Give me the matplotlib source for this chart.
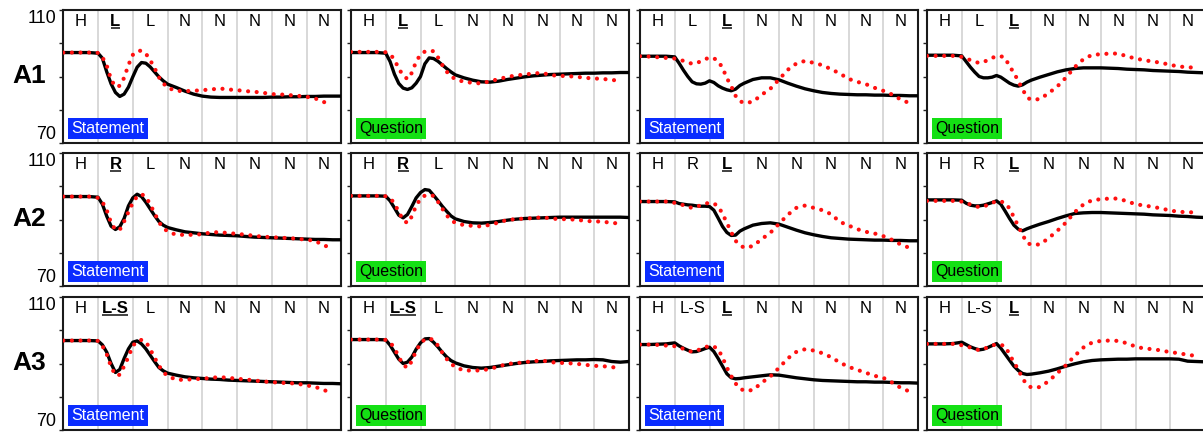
import numpy as np
import matplotlib
matplotlib.use("Agg")
import matplotlib.pyplot as plt

plt.rcParams['font.family'] = ['Liberation Sans', 'DejaVu Sans']

# ---------------- data ----------------
# sampling positions: coarse before/after the accent region, finer inside it
x_grid = np.concatenate([np.arange(0, 1, 0.25),
                         np.arange(1, 3, 0.125),
                         np.arange(3, 8.01, 0.25)])

row_names = ["A1", "A2", "A3"]
col_kinds = ["Statement", "Question", "Statement", "Question"]

tones_A1_early = ["H", "L", "L", "N", "N", "N", "N", "N"]
tones_A2_early = ["H", "R", "L", "N", "N", "N", "N", "N"]
tones_A3_early = ["H", "L-S", "L", "N", "N", "N", "N", "N"]
tones_A1_late = ["H", "L", "L", "N", "N", "N", "N", "N"]
tones_A2_late = ["H", "R", "L", "N", "N", "N", "N", "N"]
tones_A3_late = ["H", "L-S", "L", "N", "N", "N", "N", "N"]
focus_early = 1
focus_late = 2

# black = solid curve, red = dotted curve
A1_S1_black = [97.2, 97.2, 97.2, 97.2,
               97.0, 95.5, 91.4, 87.8, 85.2, 84.0, 84.7, 86.8,
               89.9, 92.8, 94.2, 94.0, 92.9, 91.4, 89.9, 88.7,
               87.7, 86.7, 85.6, 84.7, 84.1, 83.8, 83.7, 83.7, 83.7,
               83.7, 83.7, 83.7, 83.8, 83.8, 83.9, 83.9, 84.0, 84.0, 84.1, 84.1, 84.1]
A1_S1_red = [97.2, 97.2, 97.2, 97.2,
             97.1, 95.8, 93.3, 89.1, 86.9, 87.2, 89.6, 93.5,
             96.5, 97.6, 97.8, 96.9, 94.9, 92.6, 89.8, 88.0,
             86.6, 85.7, 85.6, 85.7, 85.9, 86.1, 86.4, 86.1, 85.9,
             85.6, 85.4, 85.1, 84.7, 84.6, 84.4, 84.2, 83.9, 83.4, 82.3, 82.0]
A1_Q1_black = [97.2, 97.2, 97.2, 97.2,
               97.0, 94.5, 90.7, 87.9, 86.5, 86.1, 86.6, 88.0,
               90.0, 93.8, 95.6, 95.4, 94.6, 93.5, 92.4, 91.4,
               90.5, 89.6, 88.9, 88.4, 88.3, 88.6, 89.1, 89.5, 89.9,
               90.2, 90.4, 90.6, 90.7, 90.8, 90.9, 91.0, 91.0, 91.1, 91.1, 91.2, 91.2]
A1_Q1_red = [97.4, 97.4, 97.4, 97.4,
             97.3, 96.7, 95.1, 92.3, 90.4, 89.2, 91.1, 94.5,
             96.6, 97.5, 97.8, 97.6, 95.8, 93.5, 91.5, 90.1,
             89.2, 88.4, 88.1, 87.9, 88.6, 89.2, 89.9, 90.3, 90.6,
             90.9, 91.1, 90.4, 90.2, 90.1, 89.9, 89.6, 89.4, 89.3, 88.9, 88.9]
A1_S2_black = [96.1, 96.1, 96.1, 96.1,
               95.9, 94.0, 91.9, 90.0, 88.4, 87.8, 87.7, 88.0,
               88.7, 88.2, 87.2, 86.5, 86.0, 85.7, 86.2, 87.3,
               88.0, 89.1, 89.6, 89.6, 89.0, 88.0, 87.1, 86.3, 85.7,
               85.2, 84.9, 84.7, 84.6, 84.5, 84.5, 84.4, 84.4, 84.3, 84.3, 84.2, 84.2]
A1_S2_red = [96.1, 96.0, 95.8, 95.6,
             95.4, 95.1, 94.7, 94.3, 93.8, 94.0, 94.6, 95.2,
             95.7, 95.5, 94.6, 92.6, 89.5, 87.1, 84.2, 82.6,
             82.0, 82.4, 84.5, 86.3, 89.1, 92.0, 93.9, 94.7, 94.1,
             93.4, 92.2, 90.9, 89.3, 88.4, 87.7, 86.6, 85.7, 84.6, 83.1, 82.0]
A1_Q2_black = [96.4, 96.4, 96.4, 96.4,
               96.2, 94.5, 92.8, 91.3, 90.0, 89.6, 89.6, 89.8,
               90.3, 89.8, 88.9, 88.0, 87.4, 87.1, 87.5, 88.3,
               88.9, 89.8, 90.6, 91.4, 92.0, 92.4, 92.6, 92.6, 92.6,
               92.5, 92.4, 92.2, 92.1, 92.0, 91.8, 91.7, 91.6, 91.5, 91.3, 91.2, 91.1]
A1_Q2_red = [96.2, 96.2, 96.2, 96.2,
             95.9, 95.5, 94.9, 94.4, 94.1, 94.3, 95.0, 95.6,
             96.1, 96.1, 95.6, 93.0, 91.2, 88.6, 86.2, 83.7,
             83.0, 83.2, 85.0, 87.0, 89.7, 92.8, 95.2, 96.5, 96.7,
             96.9, 96.9, 96.1, 95.4, 94.9, 94.5, 94.1, 93.5, 93.0, 92.8, 92.6]

A2_S1_black = [96.9, 96.9, 96.9, 96.9,
               96.7, 94.6, 91.0, 88.0, 87.0, 87.8, 90.3, 94.1,
               96.5, 97.6, 96.9, 95.2, 93.2, 91.2, 89.4, 88.3,
               87.6, 86.9, 86.3, 86.0, 85.7, 85.5, 85.3, 85.2, 85.1,
               84.9, 84.7, 84.6, 84.5, 84.4, 84.3, 84.2, 84.1, 84.0, 84.0, 83.9, 83.9]
A2_S1_red = [96.9, 96.9, 96.9, 96.9,
             96.5, 95.3, 92.8, 89.0, 86.9, 86.9, 89.4, 92.3,
             95.0, 97.0, 97.6, 96.9, 94.5, 92.0, 89.2, 87.5,
             86.4, 85.4, 85.4, 85.4, 85.6, 86.1, 86.2, 85.9, 85.7,
             85.4, 85.1, 84.8, 84.7, 84.5, 84.4, 84.2, 83.9, 83.6, 82.1, 81.7]
A2_Q1_black = [97.1, 97.1, 97.1, 97.1,
               97.0, 95.6, 93.5, 91.3, 90.5, 91.5, 93.9, 96.5,
               98.1, 99.0, 98.8, 97.3, 95.7, 94.0, 92.5, 91.1,
               90.2, 89.4, 89.0, 88.9, 89.1, 89.4, 89.8, 90.1, 90.3,
               90.4, 90.5, 90.6, 90.7, 90.7, 90.7, 90.7, 90.7, 90.7, 90.7, 90.7, 90.6]
A2_Q1_red = [97.1, 97.1, 97.1, 97.1,
             97.0, 96.4, 94.9, 92.2, 89.9, 88.9, 90.9, 94.2,
             96.2, 97.2, 97.4, 97.1, 95.4, 93.3, 91.3, 89.8,
             89.0, 88.3, 88.1, 87.9, 88.4, 89.1, 89.9, 90.1, 90.3,
             90.4, 90.7, 90.3, 90.1, 90.1, 89.9, 89.6, 89.4, 89.4, 88.9, 88.9]
A2_S2_black = [95.4, 95.4, 95.4, 95.4,
               95.3, 94.8, 94.6, 94.4, 94.3, 94.1, 94.0, 94.0,
               93.9, 92.8, 90.4, 87.9, 86.1, 85.2, 85.3, 86.5,
               87.2, 88.3, 88.8, 89.0, 88.6, 87.7, 86.8, 86.0, 85.4,
               84.9, 84.5, 84.3, 84.1, 84.0, 83.9, 83.8, 83.8, 83.7, 83.7, 83.6, 83.6]
A2_S2_red = [95.4, 95.4, 95.4, 95.4,
             95.0, 94.7, 94.3, 93.8, 93.5, 93.8, 94.3, 94.7,
             95.1, 94.8, 94.0, 91.7, 89.0, 86.2, 83.6, 82.3,
             81.5, 82.0, 84.1, 86.0, 88.7, 91.4, 93.5, 94.2, 93.5,
             92.8, 91.6, 89.3, 88.2, 87.1, 86.3, 85.8, 85.0, 83.9, 82.5, 81.5]
A2_Q2_black = [95.9, 95.9, 95.9, 95.9,
               95.8, 94.9, 94.3, 94.1, 94.1, 94.3, 94.7, 95.1,
               95.6, 94.6, 92.5, 90.3, 88.3, 87.1, 86.6, 87.2,
               87.7, 88.6, 89.4, 90.3, 91.1, 91.8, 92.0, 92.1, 92.1,
               92.0, 91.9, 91.8, 91.7, 91.6, 91.4, 91.3, 91.2, 91.0, 90.9, 90.7, 90.6]
A2_Q2_red = [95.6, 95.6, 95.6, 95.6,
             95.4, 95.0, 94.5, 94.1, 93.7, 93.9, 94.4, 95.0,
             95.5, 95.4, 95.0, 93.3, 90.7, 88.0, 85.4, 83.0,
             82.4, 82.5, 84.4, 86.6, 89.1, 92.2, 94.5, 95.8, 96.1,
             96.3, 96.3, 95.5, 94.6, 94.2, 93.8, 93.3, 92.7, 92.3, 92.2, 92.1]

A3_S1_black = [96.9, 96.9, 96.9, 96.9,
               96.8, 95.6, 93.4, 90.0, 87.3, 88.2, 91.5, 94.4,
               96.4, 96.8, 95.9, 94.4, 92.5, 90.6, 88.8, 87.8,
               87.1, 86.5, 86.0, 85.7, 85.5, 85.3, 85.2, 85.0, 84.9,
               84.8, 84.7, 84.6, 84.5, 84.4, 84.3, 84.2, 84.2, 84.1, 84.0, 84.0, 83.9]
A3_S1_red = [96.9, 96.9, 96.9, 96.9,
             96.8, 95.3, 92.8, 89.0, 86.5, 86.6, 89.2, 92.0,
             95.3, 96.7, 97.1, 96.6, 94.3, 91.8, 89.4, 87.4,
             86.3, 85.1, 85.1, 85.3, 85.4, 85.7, 85.9, 85.7, 85.4,
             85.2, 84.9, 84.6, 84.4, 84.2, 84.1, 83.9, 83.4, 83.0, 81.9, 81.6]
A3_Q1_black = [97.2, 97.2, 97.2, 97.2,
               97.1, 95.5, 93.4, 91.3, 90.0, 90.4, 91.9, 94.3,
               96.2, 97.4, 97.5, 96.4, 95.0, 93.4, 92.0, 90.9,
               90.2, 89.3, 88.8, 88.6, 88.8, 89.2, 89.6, 90.0, 90.3,
               90.5, 90.6, 90.8, 90.9, 91.0, 91.1, 91.1, 91.2, 91.1, 90.6, 90.4, 90.6]
A3_Q1_red = [97.2, 97.2, 97.2, 97.2,
             97.1, 96.4, 94.6, 92.0, 89.6, 88.7, 90.7, 93.9,
             96.0, 97.3, 97.5, 97.1, 95.4, 93.3, 91.4, 90.0,
             88.9, 87.9, 87.9, 87.9, 88.4, 89.1, 89.9, 90.1, 90.4,
             90.7, 90.9, 90.4, 90.2, 90.1, 89.9, 89.6, 89.3, 89.2, 88.9, 88.7]
A3_S2_black = [95.7, 95.7, 95.8, 95.9,
               96.2, 95.3, 94.6, 94.0, 93.5, 93.6, 94.0, 94.5,
               94.9, 93.6, 91.5, 89.2, 86.9, 85.7, 85.4, 85.5,
               85.7, 86.0, 86.3, 86.6, 86.5, 86.1, 85.7, 85.4, 85.1,
               84.9, 84.8, 84.7, 84.6, 84.5, 84.5, 84.4, 84.4, 84.3, 84.2, 84.2, 84.1]
A3_S2_red = [95.7, 95.7, 95.6, 95.4,
             95.2, 94.9, 94.4, 93.9, 93.5, 93.8, 94.4, 94.9,
             95.3, 95.1, 94.3, 91.8, 88.8, 86.2, 84.0, 82.5,
             81.8, 82.0, 84.2, 86.1, 88.7, 91.5, 93.5, 94.3, 93.9,
             93.1, 91.9, 90.3, 89.0, 88.1, 87.2, 86.3, 85.7, 84.3, 82.7, 81.6]
A3_Q2_black = [95.9, 95.9, 95.9, 96.0,
               96.4, 95.7, 95.0, 94.5, 94.1, 94.3, 94.8, 95.4,
               96.0, 94.6, 92.8, 91.0, 89.2, 87.9, 87.0, 86.7,
               86.8, 87.2, 87.7, 88.4, 89.2, 89.9, 90.5, 90.9, 91.1,
               91.2, 91.3, 91.3, 91.4, 91.4, 91.4, 91.4, 91.4, 91.3, 90.7, 90.6, 90.5]
A3_Q2_red = [95.9, 95.9, 95.9, 95.9,
             95.5, 95.2, 94.8, 94.4, 94.0, 94.3, 94.9, 95.4,
             95.8, 95.6, 95.2, 92.7, 90.4, 88.2, 85.5, 83.6,
             82.8, 82.9, 84.7, 87.1, 89.5, 92.3, 94.8, 96.3, 96.8,
             96.9, 96.8, 96.1, 95.1, 94.5, 94.3, 93.9, 93.4, 93.1, 92.6, 92.3]

# ---------------- assemble ----------------
black_grid = [
    [A1_S1_black, A1_Q1_black, A1_S2_black, A1_Q2_black],
    [A2_S1_black, A2_Q1_black, A2_S2_black, A2_Q2_black],
    [A3_S1_black, A3_Q1_black, A3_S2_black, A3_Q2_black],
]
red_grid = [
    [A1_S1_red, A1_Q1_red, A1_S2_red, A1_Q2_red],
    [A2_S1_red, A2_Q1_red, A2_S2_red, A2_Q2_red],
    [A3_S1_red, A3_Q1_red, A3_S2_red, A3_Q2_red],
]
tones_grid = [
    [tones_A1_early, tones_A1_early, tones_A1_late, tones_A1_late],
    [tones_A2_early, tones_A2_early, tones_A2_late, tones_A2_late],
    [tones_A3_early, tones_A3_early, tones_A3_late, tones_A3_late],
]
focus_cols = [focus_early, focus_early, focus_late, focus_late]

# ---------------- layout / style ----------------
W, H = 1203, 432
fig = plt.figure(figsize=(W / 100, H / 100), dpi=100)
col_left = [63.3, 351, 640, 927]
row_top = [10, 153, 297]
pw, ph = 278, 133

kind_style = {
    "Statement": dict(fc="#0a2cff", tc="white"),
    "Question": dict(fc="#14e014", tc="black"),
}

underlines = []
for r in range(3):
    for c in range(4):
        ax = fig.add_axes([col_left[c] / W, 1 - (row_top[r] + ph) / H, pw / W, ph / H])
        ax.set_xlim(0, 8)
        ax.set_ylim(70, 110)
        for g in range(1, 8):
            ax.axvline(g, color="#d2d2d2", lw=1.2, zorder=0)
        ax.plot(x_grid, black_grid[r][c], color="black", lw=2.4,
                solid_capstyle="round", solid_joinstyle="round", zorder=3)
        red = red_grid[r][c]
        ax.plot(x_grid[:len(red)], red, color="#ff1010", lw=3.0,
                linestyle=(0, (0.01, 2.05)), dash_capstyle="round", zorder=4)
        ax.set_xticks([])
        ax.set_yticks([70, 80, 90, 100, 110])
        ax.tick_params(axis="y", direction="out", length=3, width=1,
                       labelsize=13, pad=2, color="#222222")
        if c == 0:
            ax.set_yticklabels(["70", "", "", "", "110"])
            tl = ax.get_yticklabels()
            tl[0].set_va("bottom")
            tl[4].set_va("top")
        else:
            ax.set_yticklabels([])
        for s in ax.spines.values():
            s.set_linewidth(1.5)
            s.set_color("#1a1a1a")
        for i, lab in enumerate(tones_grid[r][c]):
            bold = (i == focus_cols[c])
            t = ax.text(i + 0.5, 105.3, lab, ha="center", va="baseline", fontsize=12,
                        fontweight="bold" if bold else "normal", zorder=5)
            if bold:
                underlines.append((ax, t))
        kind = col_kinds[c]
        st = kind_style[kind]
        ax.text(0.029, 0.053, kind, transform=ax.transAxes, fontsize=11.5,
                color=st["tc"], ha="left", va="bottom", zorder=6,
                bbox=dict(boxstyle="square,pad=0.2", fc=st["fc"], ec="none"))
    fig.text(29 / W, 1 - (row_top[r] + 73.4) / H, row_names[r], ha="center",
             va="baseline", fontsize=19, fontweight="bold")

fig.canvas.draw()
renderer = fig.canvas.get_renderer()
for ax, t in underlines:
    bb = t.get_window_extent(renderer)
    inv = ax.transData.inverted()
    (x0, _), (x1, _) = inv.transform([(bb.x0 + 0.5, bb.y0), (bb.x1 - 0.5, bb.y0)])
    ax.plot([x0, x1], [104.6, 104.6], color="#333333", lw=1.3, zorder=5,
            solid_capstyle="butt")

fig.savefig("out.png", dpi=100)
